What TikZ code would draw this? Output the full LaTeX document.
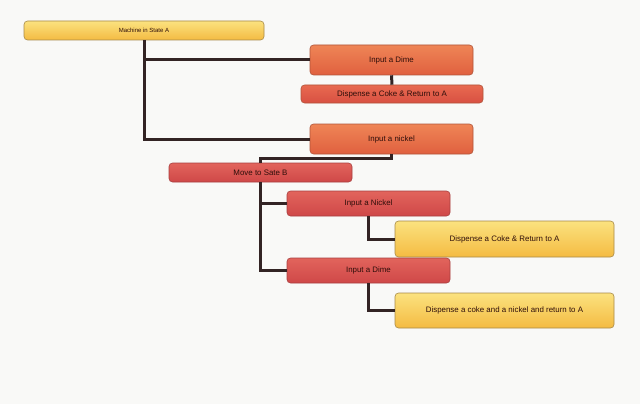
\documentclass[tikz,border=0pt]{standalone}
\usepackage{fontspec}
\setmainfont{Liberation Sans}
\definecolor{bgc}{HTML}{F9F9F7}
\definecolor{linec}{HTML}{332424}
\definecolor{txtc}{HTML}{2E0E0A}
\definecolor{orT}{HTML}{EF8556}
\definecolor{orB}{HTML}{E0603F}
\definecolor{orD}{HTML}{B0553A}
\definecolor{rdT}{HTML}{E2645C}
\definecolor{rdB}{HTML}{CF4848}
\definecolor{rdD}{HTML}{A84040}
\definecolor{dsT}{HTML}{E86A50}
\definecolor{dsB}{HTML}{D85042}
\definecolor{ylT}{HTML}{FBE27F}
\definecolor{ylB}{HTML}{F4BB42}
\definecolor{ylD}{HTML}{A88A48}
\tikzset{
  box/.style={rounded corners=3.5pt, line width=0.6pt, inner sep=0pt,
    font=\fontsize{7.9}{9}\selectfont, text=txtc},
  orbox/.style={box, draw=orD, top color=orT, bottom color=orB},
  rdbox/.style={box, draw=rdD, top color=rdT, bottom color=rdB},
  dsbox/.style={box, draw=orD, top color=dsT, bottom color=dsB},
  ylbox/.style={box, draw=ylD, top color=ylT, bottom color=ylB},
  conn/.style={draw=linec, line width=3pt, line join=miter},
}
\begin{document}
\begin{tikzpicture}[x=1pt,y=-1pt]
\fill[bgc] (0,0) rectangle (640,404);
\useasboundingbox (0,0) rectangle (640,404);
\node[ylbox, minimum width=240pt, minimum height=19pt, font=\fontsize{6}{7}\selectfont] (mA) at (144,30.5) {Machine in State A};
\node[orbox, minimum width=163pt, minimum height=30pt] (dime1) at (391.5,60) {Input a Dime};
\node[dsbox, minimum width=182pt, minimum height=18pt] (disp1) at (392,94) {Dispense a Coke \& Return to A};
\node[orbox, minimum width=163pt, minimum height=30pt] (nick1) at (391.5,139) {Input a nickel};
\node[rdbox, minimum width=183pt, minimum height=19pt] (moveB) at (260.5,172.5) {Move to Sate B};
\node[rdbox, minimum width=163pt, minimum height=25pt] (nickB) at (368.5,203.5) {Input a Nickel};
\node[ylbox, minimum width=219pt, minimum height=36pt] (disp2) at (504.5,239) {Dispense a Coke \& Return to A};
\node[rdbox, minimum width=163pt, minimum height=25pt] (dimeB) at (368.5,270.5) {Input a Dime};
\node[ylbox, minimum width=219pt, minimum height=35pt] (disp3) at (504.5,310.5) {Dispense a coke and a nickel and return to A};
\draw[conn] (mA.south) |- (dime1.west);
\draw[conn] (mA.south) |- (nick1.west);
\draw[conn] (dime1.south) -- (disp1.north);
\draw[conn] (nick1.south) -- ++(0,4.5) -| (moveB.north);
\draw[conn] (moveB.south) |- (nickB.west);
\draw[conn] (moveB.south) |- (dimeB.west);
\draw[conn] (nickB.south) |- (disp2.west);
\draw[conn] (dimeB.south) |- (disp3.west);
\end{tikzpicture}
\end{document}
